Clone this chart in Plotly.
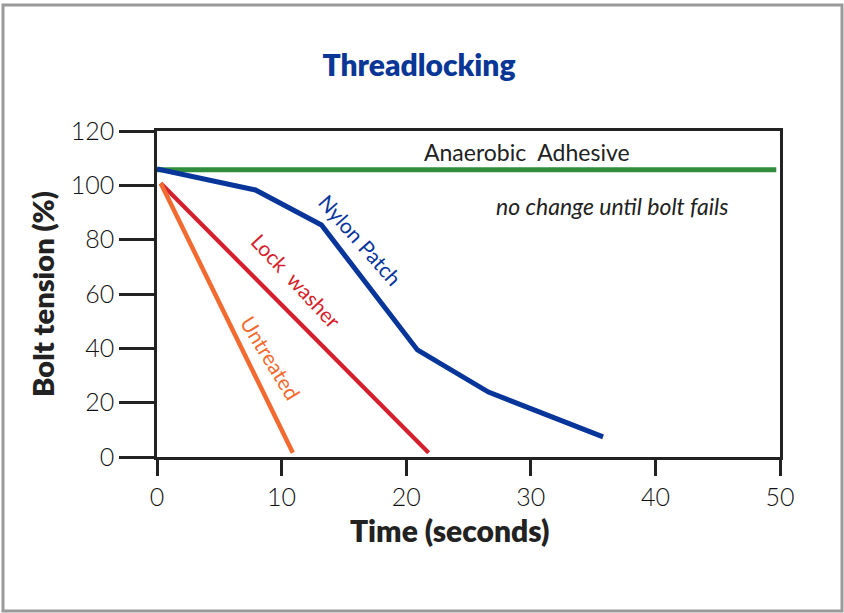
import plotly.graph_objects as go

# ---- data ----
time_nylon = [0, 7.9, 13.2, 20.9, 26.6, 35.8]
tension_nylon = [106, 98.3, 85.4, 39.4, 23.9, 7.4]

time_lock = [0.3, 21.8]
tension_lock = [100.8, 1.6]

time_untreated = [0.3, 10.9]
tension_untreated = [100.8, 1.6]

time_anaerobic = [0, 49.7]
tension_anaerobic = [105.7, 105.7]

x_ticks = [0, 10, 20, 30, 40, 50]
y_ticks = [0, 20, 40, 60, 80, 100, 120]

GREEN = "#2f8d3c"
BLUE = "#08359a"
RED = "#d61f2c"
ORANGE = "#f26a30"
INK = "#222222"
FONT = "Lato, 'Open Sans', sans-serif"

W, H = 844, 613
ML, MR, MT, MB = 157, 64, 131, 156
PW, PH = W - ML - MR, H - MT - MB

fig = go.Figure()
fig.add_trace(go.Scatter(x=time_anaerobic, y=tension_anaerobic, mode="lines",
                         line=dict(color=GREEN, width=5), hoverinfo="skip"))
fig.add_trace(go.Scatter(x=time_nylon, y=tension_nylon, mode="lines",
                         line=dict(color=BLUE, width=5), hoverinfo="skip"))
fig.add_trace(go.Scatter(x=time_lock, y=tension_lock, mode="lines",
                         line=dict(color=RED, width=4.2), hoverinfo="skip"))
fig.add_trace(go.Scatter(x=time_untreated, y=tension_untreated, mode="lines",
                         line=dict(color=ORANGE, width=4.5), hoverinfo="skip"))

def ann(x, y, text, color, size, angle=0, italic=False):
    fig.add_annotation(x=x, y=y, xref="x", yref="y", text=text, showarrow=False,
                       textangle=angle, xanchor="center", yanchor="middle",
                       font=dict(family=FONT, size=size, color=color,
                                 style="italic" if italic else "normal"))

ann(29.7, 112.3, "Anaerobic\u00a0 Adhesive", INK, 23)
ann(36.5, 92.4, "no change until bolt fails", INK, 23, italic=True)
ann(16.3, 79.9, "Nylon Patch", BLUE, 21, angle=48.5)
ann(11.2, 65.1, "Lock\u00a0 washer", RED, 21, angle=47)
ann(9.15, 36.8, "Untreated", ORANGE, 21, angle=58.5)

# pixel positions converted to paper coords
def px_x(p):
    return (p - ML) / PW
def px_y(p):
    return (H - MB - p) / PH

# outer grey frame
fig.add_shape(type="rect", xref="paper", yref="paper",
              x0=px_x(3), x1=px_x(842), y0=px_y(611), y1=px_y(5),
              line=dict(color="#9a9a9a", width=3), fillcolor="rgba(0,0,0,0)",
              layer="below")

# x axis title (slightly left of centre, as in the original)
fig.add_annotation(xref="paper", yref="paper", x=px_x(449), y=px_y(530),
                   text="Time (seconds)", showarrow=False,
                   xanchor="center", yanchor="middle",
                   font=dict(family=FONT, size=30, color=INK, weight=800))

fig.update_layout(
    width=W, height=H,
    margin=dict(l=ML, r=MR, t=MT, b=MB),
    paper_bgcolor="white", plot_bgcolor="white",
    showlegend=False,
    title=dict(text="Threadlocking", x=419 / W, xref="container", xanchor="center",
               y=1 - 65 / H, yref="container", yanchor="middle",
               font=dict(family=FONT, size=30, color="#0a3796", weight=800)),
    font=dict(family=FONT, color=INK),
)
fig.update_xaxes(range=[0, 50], tickvals=x_ticks, ticks="outside", ticklen=16,
                 tickwidth=2.5, tickcolor=INK, showline=True, linewidth=2.5,
                 linecolor=INK, mirror=True, showgrid=False, zeroline=False,
                 tickfont=dict(family=FONT, size=25, color="#111111", weight=300))
fig.update_yaxes(range=[0, 120], tickvals=y_ticks, ticks="outside", ticklen=35,
                 tickwidth=2.5, tickcolor=INK, showline=True, linewidth=2.5,
                 linecolor=INK, mirror=True, showgrid=False, zeroline=False,
                 tickfont=dict(family=FONT, size=25, color="#111111", weight=300),
                 title=dict(text="Bolt tension (%)", standoff=8,
                            font=dict(family=FONT, size=29, color=INK, weight=800)))

fig.write_html("out.html", config={"displayModeBar": False},
               post_script="document.body.style.margin='0';")
